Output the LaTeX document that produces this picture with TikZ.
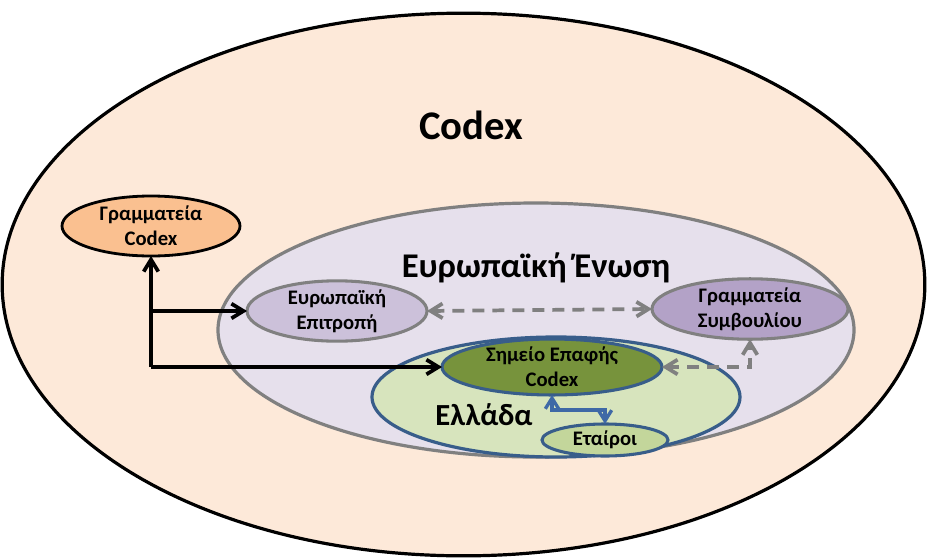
\documentclass[tikz,border=0pt]{standalone}
\usepackage{fontspec}
\setmainfont{Carlito}
\usetikzlibrary{shapes.geometric,arrows.meta}
\definecolor{outerfill}{HTML}{FDE9D9}
\definecolor{gcfill}{HTML}{FAC090}
\definecolor{eufill}{HTML}{E6E0EC}
\definecolor{epitfill}{HTML}{CCC1DA}
\definecolor{symvfill}{HTML}{B3A2C7}
\definecolor{grfill}{HTML}{D7E4BD}
\definecolor{simfill}{HTML}{77933C}
\definecolor{etfill}{HTML}{C3D69B}
\definecolor{blueline}{HTML}{385D8A}
\definecolor{bluearrow}{HTML}{3F69A6}
\definecolor{grayline}{HTML}{808080}
\begin{document}
\begin{tikzpicture}[x=0.75pt,y=-0.75pt,
  ell/.style={ellipse, inner sep=0pt, outer sep=0pt, align=center},
  small/.style={font=\fontsize{15.5}{18.5}\selectfont\bfseries},
  blk/.style={draw=black, line width=2.8pt, -{Straight Barb[length=9pt,width=11pt]}},
  grd/.style={draw=grayline, line width=2.8pt, dash pattern=on 9pt off 6pt,
     {Straight Barb[length=9pt,width=11pt]}-{Straight Barb[length=9pt,width=11pt]}},
  blu/.style={draw=bluearrow, line width=2.5pt,
     {Straight Barb[length=8pt,width=10pt]}-{Straight Barb[length=8pt,width=10pt]}}
]
\useasboundingbox (0,0) rectangle (928,557);
% outer
\node[ell, fill=outerfill, draw=black, line width=2.4pt,
      minimum width=692pt, minimum height=407pt] (codex) at (463.5,284.5) {};
\node[font=\fontsize{30.5}{36}\selectfont\bfseries] (codext) at (471,125) {Codex};
% Grammateia Codex
\node[ell, small, fill=gcfill, draw=black, line width=2.1pt,
      minimum width=133.5pt, minimum height=45pt] (gc) at (151,226) {Γραμματεία\\Codex};
% EU
\node[ell, fill=eufill, draw=grayline, line width=2.4pt,
      minimum width=477pt, minimum height=190.5pt] (eu) at (536,330) {};
\node[font=\fontsize{26}{31}\selectfont\bfseries] (eut) at (536,268) {Ευρωπαϊκή Ένωση};
\node[ell, small, fill=epitfill, draw=grayline, line width=2.3pt,
      minimum width=135pt, minimum height=43.5pt] (epit) at (337,311) {Ευρωπαϊκή\\Επιτροπή};
\node[ell, small, fill=symvfill, draw=grayline, line width=2.3pt,
      minimum width=147pt, minimum height=43.5pt] (symv) at (750,309) {Γραμματεία\\Συμβουλίου};
% Greece
\node[ell, fill=grfill, draw=blueline, line width=2.4pt,
      minimum width=276pt, minimum height=90pt] (gr) at (556,397) {};
\node[font=\fontsize{23}{28}\selectfont\bfseries] (grt) at (484,415) {Ελλάδα};
\node[ell, small, fill=simfill, draw=blueline, line width=2.3pt,
      minimum width=165pt, minimum height=36pt] (sim) at (552,367) {Σημείο Επαφής\\Codex};
\node[ell, small, fill=etfill, draw=blueline, line width=2.3pt,
      minimum width=94.5pt, minimum height=24pt] (et) at (605,440) {Εταίροι};
% connectors
\coordinate (jm) at (gc.south |- epit.west);
\coordinate (jb) at (gc.south |- sim.west);
\draw[blk] (jb) -- (gc.south);
\draw[blk] (jm) -- (epit.west);
\draw[blk] (jb) -- (sim.west);
\draw[grd] (epit.east) -- (symv.west);
\draw[grd] (sim.east) -| (symv.south);
\draw[blu] (sim.south) -- ++(0,15) -| (et.north);
\end{tikzpicture}
\end{document}
